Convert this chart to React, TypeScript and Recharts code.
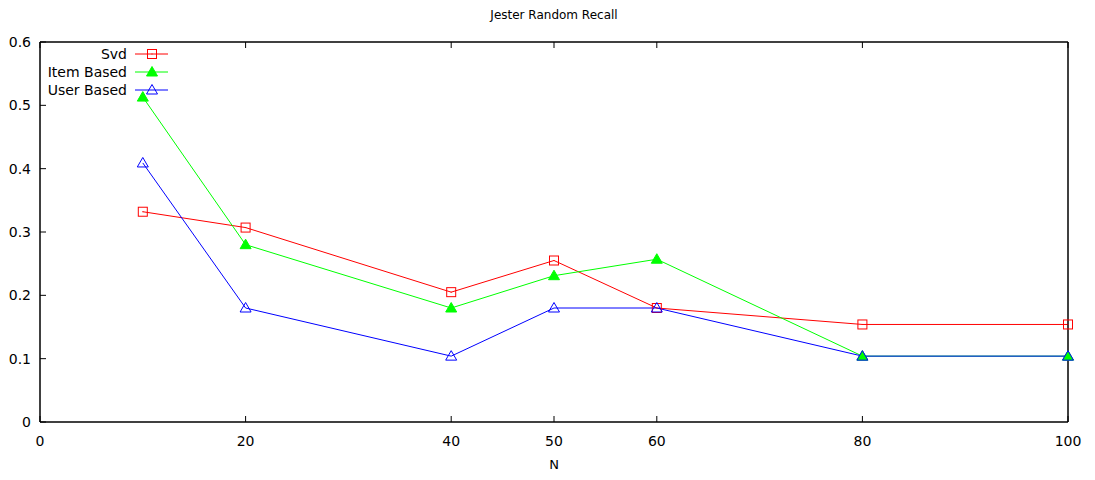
import { LineChart, Line, XAxis, YAxis } from "recharts"

// N values on the x axis and recall per method
const nValues = [10, 20, 40, 50, 60, 80, 100]
const svdRecall = [0.332, 0.307, 0.205, 0.255, 0.18, 0.154, 0.154]
const itemRecall = [0.513, 0.28, 0.18, 0.231, 0.257, 0.104, 0.104]
const userRecall = [0.409, 0.18, 0.104, 0.18, 0.18, 0.104, 0.104]

const xTicks = [0, 20, 40, 50, 60, 80, 100]
const yTicks = [0, 0.1, 0.2, 0.3, 0.4, 0.5, 0.6]

const FONT = "DejaVu Sans, Verdana, sans-serif"

const data = nValues.map((n, i) => ({
  n,
  svd: svdRecall[i],
  item: itemRecall[i],
  user: userRecall[i],
}))

const series = [
  { key: "svd", name: "Svd", color: "#ff0000", marker: "square" },
  { key: "item", name: "Item Based", color: "#00ff00", marker: "filledTriangle" },
  { key: "user", name: "User Based", color: "#0000ff", marker: "triangle" },
]

function Marker({ cx, cy, kind, color }: any) {
  if (cx == null || cy == null) return null
  if (kind === "square") {
    return (
      <g>
        <rect x={cx - 4.5} y={cy - 4.5} width={9} height={9} fill="none" stroke={color} strokeWidth={1} />
        <rect x={cx - 0.5} y={cy - 0.5} width={1} height={1} fill={color} />
      </g>
    )
  }
  const pts = `${cx - 5.5},${cy + 4} ${cx + 5.5},${cy + 4} ${cx},${cy - 5.5}`
  return (
    <polygon
      points={pts}
      fill={kind === "filledTriangle" ? color : "none"}
      stroke={color}
      strokeWidth={1}
    />
  )
}

// gnuplot-style ticks: short marks pointing into the plot
function BottomTick({ x, y, payload }: any) {
  return (
    <g>
      <line x1={x} y1={y} x2={x} y2={y - 6} stroke="#000" />
      <text x={x} y={y + 24} textAnchor="middle" fontSize={14} fontFamily={FONT} fill="#000">
        {payload.value}
      </text>
    </g>
  )
}

function TopTick({ x, y }: any) {
  return <line x1={x} y1={y} x2={x} y2={y + 6} stroke="#000" />
}

function LeftTick({ x, y, payload }: any) {
  return (
    <g>
      <line x1={x} y1={y} x2={x + 6} y2={y} stroke="#000" />
      <text x={x - 9} y={y + 5} textAnchor="end" fontSize={14} fontFamily={FONT} fill="#000">
        {payload.value}
      </text>
    </g>
  )
}

function RightTick({ x, y }: any) {
  return <line x1={x} y1={y} x2={x - 6} y2={y} stroke="#000" />
}

// key in the top-left corner of the plot
function KeyBox() {
  return (
    <svg width={180} height={60} style={{ position: "absolute", left: 0, top: 35 }}>
      {series.map((s, i) => {
        const y = 11 + i * 18
        return (
          <g key={s.key}>
            <text x={119} y={y + 5} textAnchor="end" fontSize={14} fontFamily={FONT} fill="#000">
              {s.name}
            </text>
            <line x1={127} y1={y} x2={160} y2={y} stroke={s.color} />
            <Marker cx={144} cy={y} kind={s.marker} color={s.color} />
          </g>
        )
      })}
    </svg>
  )
}

export default function App() {
  return (
    <div style={{ position: "relative", width: 1079, height: 464 }}>
      <div
        style={{
          position: "absolute",
          left: 32,
          width: 1028,
          top: 0,
          textAlign: "center",
          fontFamily: FONT,
          fontSize: 12,
        }}
      >
        Jester Random Recall
      </div>
      <div
        style={{
          position: "absolute",
          left: 32,
          width: 1028,
          top: 449,
          textAlign: "center",
          fontFamily: FONT,
          fontSize: 13,
        }}
      >
        N
      </div>
      <LineChart width={1079} height={464} data={data} margin={{ top: 0, right: 0, bottom: 0, left: 0 }}>
        <XAxis
          xAxisId="bottom"
          dataKey="n"
          type="number"
          domain={[0, 100]}
          ticks={xTicks}
          tickSize={0}
          tickMargin={0}
          tick={<BottomTick />}
          axisLine={{ stroke: "#000", strokeWidth: 1.5 }}
          height={50}
          interval={0}
        />
        <XAxis
          xAxisId="top"
          orientation="top"
          dataKey="n"
          type="number"
          domain={[0, 100]}
          ticks={xTicks}
          tickSize={0}
          tickMargin={0}
          tick={<TopTick />}
          axisLine={{ stroke: "#000", strokeWidth: 1.5 }}
          height={34}
          interval={0}
        />
        <YAxis
          yAxisId="left"
          domain={[0, 0.6]}
          ticks={yTicks}
          tickSize={0}
          tickMargin={0}
          tick={<LeftTick />}
          axisLine={{ stroke: "#000", strokeWidth: 1.5 }}
          width={32}
          interval={0}
        />
        <YAxis
          yAxisId="right"
          orientation="right"
          domain={[0, 0.6]}
          ticks={yTicks}
          tickSize={0}
          tickMargin={0}
          tick={<RightTick />}
          axisLine={{ stroke: "#000", strokeWidth: 1.5 }}
          width={19}
          interval={0}
        />
        {series.map((s) => (
          <Line
            key={s.key}
            xAxisId="bottom"
            yAxisId="left"
            dataKey={s.key}
            name={s.name}
            stroke={s.color}
            strokeWidth={1}
            type="linear"
            dot={(p: any) => <Marker key={`${s.key}-${p.index}`} cx={p.cx} cy={p.cy} kind={s.marker} color={s.color} />}
            activeDot={false}
            isAnimationActive={false}
          />
        ))}
      </LineChart>
      <KeyBox />
    </div>
  )
}
